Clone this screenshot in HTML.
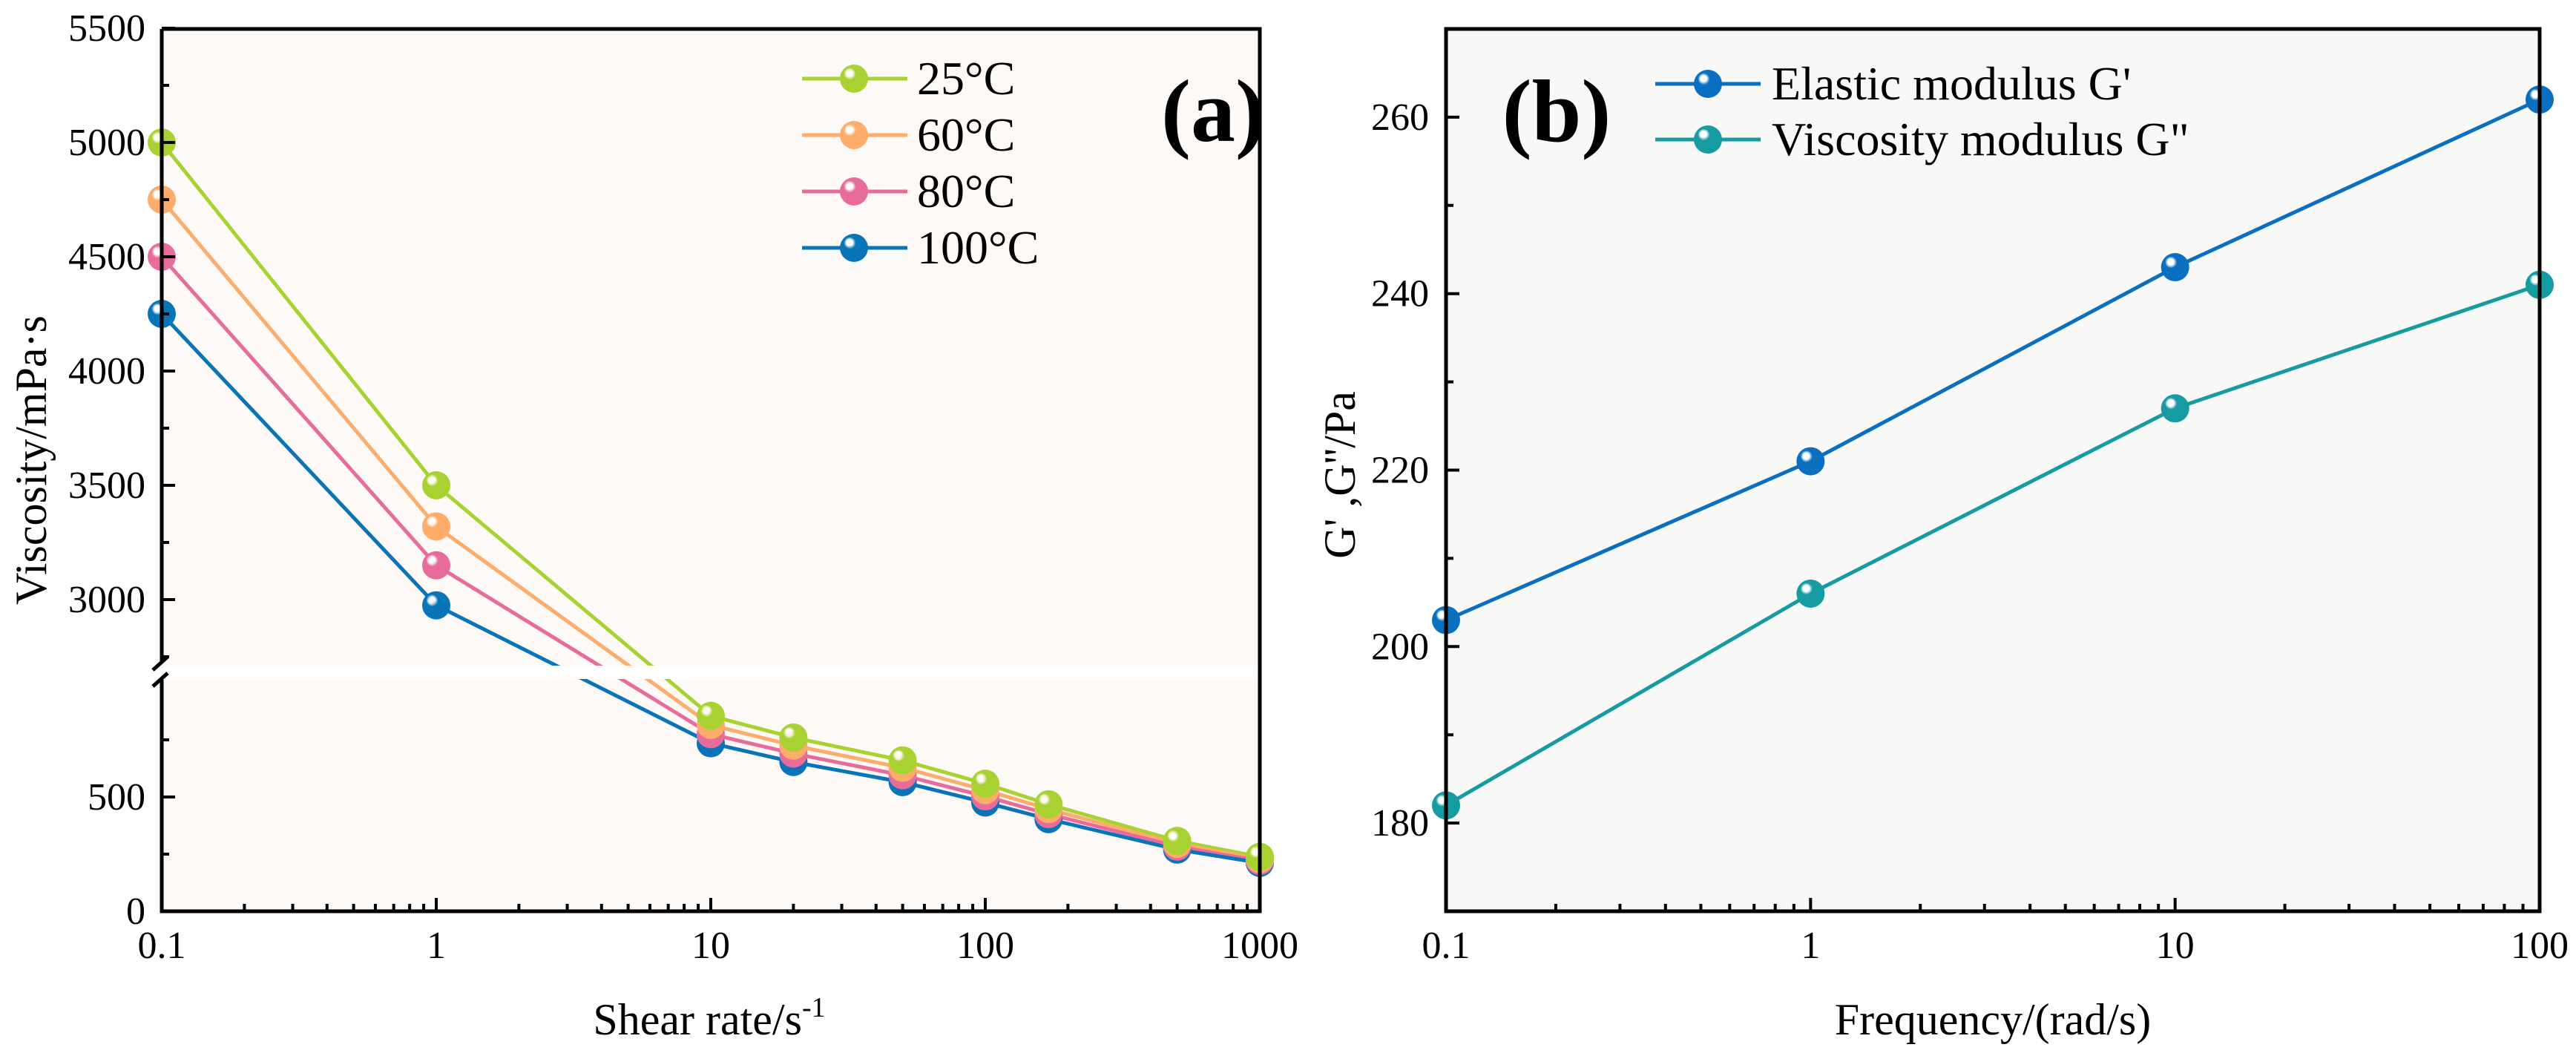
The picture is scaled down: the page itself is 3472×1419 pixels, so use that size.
<!DOCTYPE html>
<html><head><meta charset="utf-8"><style>
html,body{margin:0;padding:0;background:#fff;}
svg{display:block;font-family:"Liberation Serif",serif;}
</style></head><body>
<svg id="chart" width="3472" height="1419" viewBox="0 0 3472 1419" xmlns="http://www.w3.org/2000/svg">
<defs></defs>
<g id="pa"></g>
<g id="pb"></g>
</svg>
<script>
// ---- Panel (a) data ----
const aX = [0.1, 1, 10, 20, 50, 100, 170, 500, 1000];
const aSeriesNames = ["25°C", "60°C", "80°C", "100°C"];
const a25 = [5000, 3500, 855, 760, 660, 558, 468, 308, 238];
const a60 = [4750, 3320, 815, 725, 628, 530, 447, 295, 228];
const a80 = [4500, 3150, 775, 690, 595, 503, 425, 283, 220];
const a100 = [4250, 2975, 735, 653, 565, 476, 403, 270, 212];
const aXTicks = ["0.1", "1", "10", "100", "1000"];
const aYTicksUpper = [3000, 3500, 4000, 4500, 5000, 5500];
const aYTicksLower = [0, 500];
// ---- Panel (b) data ----
const bX = [0.1, 1, 10, 100];
const bSeriesNames = ["Elastic modulus G'", "Viscosity modulus G\""];
const bG1 = [203, 221, 243, 262];
const bG2 = [182, 206, 227, 241];
const bXTicks = ["0.1", "1", "10", "100"];
const bYTicks = [180, 200, 220, 240, 260];

const NS = "http://www.w3.org/2000/svg";
function mk(tag, attrs, parent){const e=document.createElementNS(NS,tag);for(const k in attrs)e.setAttribute(k,attrs[k]);parent.appendChild(e);return e;}
const defs=document.querySelector('defs');
const colA=["#a8d232","#fdac6b","#e86c9b","#0a74b8"];
const colB=["#0a6fc0","#169ba3"];
function grad(id,c){
  const g=mk('radialGradient',{id:id,cx:'0.4',cy:'0.38',r:'0.6',fx:'0.33',fy:'0.3'},defs);
  mk('stop',{offset:'0',"stop-color":'#ffffff'},g);
  mk('stop',{offset:'0.18',"stop-color":'#ffffff',"stop-opacity":'0.85'},g);
  mk('stop',{offset:'0.35',"stop-color":c},g);
  mk('stop',{offset:'1',"stop-color":c},g);
}
colA.forEach((c,i)=>grad('ga'+i,c));colB.forEach((c,i)=>grad('gb'+i,c));
const key=n=>n.replace('°C','c');

// ---------- Panel a ----------
const pa=document.getElementById('pa');
const aL=218,aR=1698,aT=39,aB=1228;
const ax=v=>aL+(Math.log10(v)+1)/4*(aR-aL);
const pxPer=154/500;
function ay(v){ if(v>=2000) return 808-(v-3000)*pxPer; return aB-v*pxPer; }
let bg=mk('rect',{x:aL,y:aT,width:aR-aL,height:aB-aT,fill:'#fdf9f6'},pa);


const aData=[a25,a60,a80,a100];
aData.forEach((s,i)=>{
  const pts=s.map((v,j)=>ax(aX[j])+','+ay(v)).join(' ');
  const pl=mk('polyline',{points:pts,fill:'none',stroke:colA[i],'stroke-width':5,'stroke-linejoin':'round'},pa);
  
  
});
// break band
const band=mk('rect',{x:aL+3,y:897,width:aR-aL-6,height:18,fill:'#ffffff'},pa);


for(let i=aData.length-1;i>=0;i--){
  aData[i].forEach((v,j)=>{
    const c=mk('circle',{cx:ax(aX[j]),cy:ay(v),r:19,fill:'url(#ga'+i+')'},pa);
    
    
  });
}
mk('path',{d:`M${aL},${aT} H${aR} V${aB} H${aL} V916 M${aL},893 V${aT}`,fill:'none',stroke:'#000','stroke-width':5},pa);
mk('path',{d:`M${aL-12},${903} l20,-18 M${aL-12},${925} l20,-18`,stroke:'#000','stroke-width':5},pa);
let tk='';
aYTicksUpper.forEach(v=>{tk+=`M${aL},${ay(v)} h18 `;});
[2750,3250,3750,4250,4750,5250].forEach(v=>{tk+=`M${aL},${ay(v)} h10 `;});
aYTicksLower.forEach(v=>{tk+=`M${aL},${ay(v)} h18 `;});
[250,750].forEach(v=>{tk+=`M${aL},${ay(v)} h10 `;});
for(let d=-1;d<3;d++){for(let m=1;m<10;m++){const x=ax(m*Math.pow(10,d));tk+=`M${x},${aB} v${m==1?-18:-10} `;}}
tk+=`M${aR},${aB} v-18`;
mk('path',{d:tk,stroke:'#000','stroke-width':4,fill:'none'},pa);
aYTicksUpper.concat(aYTicksLower).forEach(v=>{
  const t=mk('text',{x:196,y:ay(v)+17,'text-anchor':'end','font-size':52},pa);t.textContent=v;
  
  
});
aXTicks.forEach((s,i)=>{
  const t=mk('text',{x:ax(parseFloat(s)),y:1291,'text-anchor':'middle','font-size':52},pa);t.textContent=s;
  
  
});
let t=mk('text',{x:956,y:1394,'text-anchor':'middle','font-size':60},pa);
t.innerHTML='Shear rate/s<tspan dy="-24" font-size="38">-1</tspan>';

t=mk('text',{x:0,y:0,'text-anchor':'middle','font-size':60,transform:'translate(62,620) rotate(-90)'},pa);
t.textContent='Viscosity/mPa·s';

t=mk('text',{x:1635,y:190,'text-anchor':'middle','font-size':120,'font-weight':'bold'},pa);t.textContent='(a)';

aSeriesNames.forEach((n,i)=>{
  const y=106+i*76;
  const g=mk('g',{},pa);
  
  
  mk('line',{x1:1081,x2:1223,y1:y,y2:y,stroke:colA[i],'stroke-width':5},g);
  mk('circle',{cx:1151,cy:y,r:19,fill:'url(#ga'+i+')'},g);
  const tt=mk('text',{x:1236,y:y+21,'font-size':64},g);tt.textContent=n;
});

// ---------- Panel b ----------
const pb=document.getElementById('pb');
const bL=1949,bR=3423,bT=39,bB=1228;
const bx=v=>bL+(Math.log10(v)+1)/3*(bR-bL);
const by=v=>bB-(v-170)/100*(bB-bT);
bg=mk('rect',{x:bL,y:bT,width:bR-bL,height:bB-bT,fill:'#f8f8f6'},pb);


[bG1,bG2].forEach((s,i)=>{
  const pl=mk('polyline',{points:s.map((v,j)=>bx(bX[j])+','+by(v)).join(' '),fill:'none',stroke:colB[i],'stroke-width':5},pb);
  
  
});
[bG2,bG1].forEach((s,k)=>{
  const i=1-k;
  s.forEach((v,j)=>{
    const c=mk('circle',{cx:bx(bX[j]),cy:by(v),r:19,fill:'url(#gb'+i+')'},pb);
    
    
  });
});
mk('rect',{x:bL,y:bT,width:bR-bL,height:bB-bT,fill:'none',stroke:'#000','stroke-width':5},pb);
tk='';
for(let v=180;v<=260;v+=10){tk+=`M${bL},${by(v)} h${v%20==0?18:10} `;}
for(let d=-1;d<2;d++){for(let m=1;m<10;m++){const x=bx(m*Math.pow(10,d));tk+=`M${x},${bB} v${m==1?-18:-10} `;}}
tk+=`M${bR},${bB} v-18`;
mk('path',{d:tk,stroke:'#000','stroke-width':4,fill:'none'},pb);
bYTicks.forEach(v=>{
  const t2=mk('text',{x:1926,y:by(v)+17,'text-anchor':'end','font-size':52},pb);t2.textContent=v;
  
  
});
bXTicks.forEach(s=>{
  const t2=mk('text',{x:bx(parseFloat(s)),y:1291,'text-anchor':'middle','font-size':52},pb);t2.textContent=s;
  
  
});
t=mk('text',{x:2686,y:1394,'text-anchor':'middle','font-size':60},pb);t.textContent='Frequency/(rad/s)';

t=mk('text',{x:0,y:0,'text-anchor':'middle','font-size':60,transform:'translate(1826,640) rotate(-90)'},pb);
t.textContent="G' ,G''/Pa";

t=mk('text',{x:2098,y:190,'text-anchor':'middle','font-size':120,'font-weight':'bold'},pb);t.textContent='(b)';

bSeriesNames.forEach((n,i)=>{
  const y=113+i*75;
  const g=mk('g',{},pb);
  
  
  mk('line',{x1:2231,x2:2373,y1:y,y2:y,stroke:colB[i],'stroke-width':5},g);
  mk('circle',{cx:2302,cy:y,r:19,fill:'url(#gb'+i+')'},g);
  const tt=mk('text',{x:2388,y:y+21,'font-size':64},g);tt.textContent=n;
});
</script>
</body></html>
